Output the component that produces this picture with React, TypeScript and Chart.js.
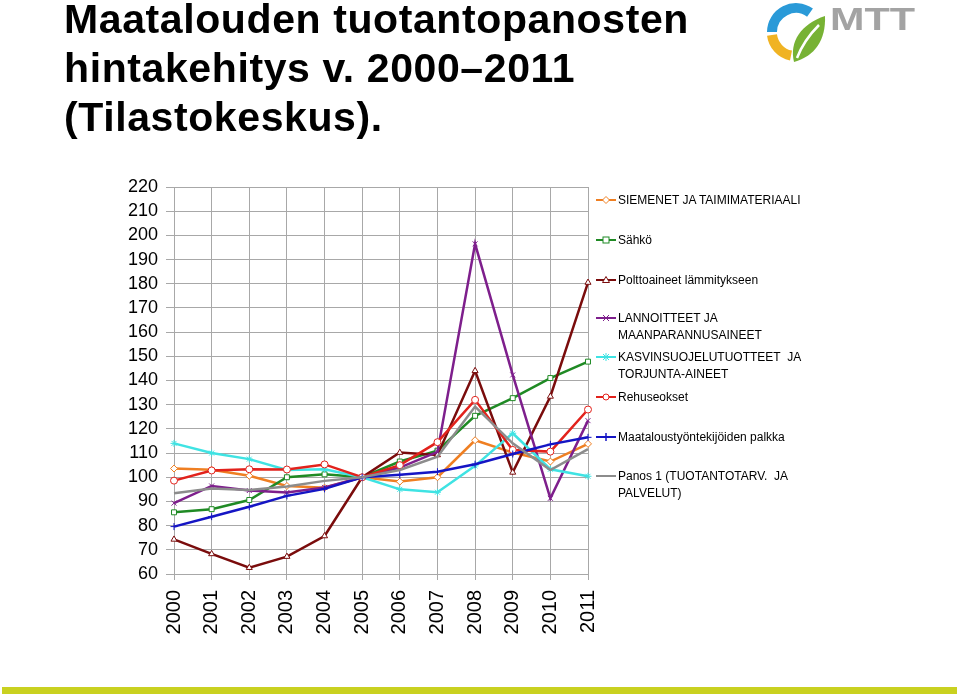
import React, { useEffect, useRef } from "react";
import { Chart, registerables } from "chart.js";
Chart.register(...registerables);

const years = ["2000", "2001", "2002", "2003", "2004", "2005", "2006", "2007", "2008", "2009", "2010", "2011"];

const siemenet = [103.6, 103.1, 100.6, 96.4, 95.7, 100, 98.2, 100, 115.3, 110.2, 106.5, 113.8];
const sahko = [85.5, 86.8, 90.6, 100, 101.2, 100, 106.5, 111, 125.4, 132.7, 141, 147.8];
const polttoaineet = [74.3, 68.3, 62.6, 67.2, 75.7, 100, 110.2, 109.2, 144, 102, 133.4, 180.5];
const lannoitteet = [89.3, 96.4, 94.5, 93.7, 95.8, 100, 104, 110.5, 196.5, 142.3, 91.3, 123.4];
const kasvinsuojelu = [114, 110, 107.5, 103, 103.3, 100, 95, 93.8, 104.7, 118.2, 103.3, 100.4];
const rehuseokset = [98.6, 102.8, 103.3, 103.2, 105.3, 100, 105, 114.5, 132, 111.3, 110.6, 128];
const palkka = [79.6, 83.7, 87.8, 92.3, 95.2, 100, 101, 102.3, 105.4, 109.6, 113.6, 116.5];
const panos = [93.4, 95.3, 94.7, 96.2, 98.5, 100, 103, 108.5, 129.2, 114, 103, 111.6];

const seriesLabels: string[][] = [
  ["SIEMENET JA TAIMIMATERIAALI"],
  ["Sähkö"],
  ["Polttoaineet lämmitykseen"],
  ["LANNOITTEET JA", "MAANPARANNUSAINEET"],
  ["KASVINSUOJELUTUOTTEET  JA", "TORJUNTA-AINEET"],
  ["Rehuseokset"],
  ["Maataloustyöntekijöiden palkka"],
  ["Panos 1 (TUOTANTOTARV.  JA", "PALVELUT)"],
];
const seriesColors = ["#ef7f22", "#1f8a24", "#7a0c0c", "#7e1f8c", "#3fe3e3", "#e2221c", "#1515c4", "#8c8c8c"];
const seriesMarkers = ["rectRot", "rect", "triangle", "crossRot", "star", "circle", "cross", "none"];

const FONT = "'Liberation Sans', Arial, Helvetica, sans-serif";

function Marker({ kind, color }: { kind: string; color: string }) {
  const c = 10, m = 8;
  let shape: React.ReactNode = null;
  if (kind === "rectRot") shape = <polygon points={`${c},${m - 3.5} ${c + 3.5},${m} ${c},${m + 3.5} ${c - 3.5},${m}`} fill="#fff" stroke={color} strokeWidth={1} />;
  else if (kind === "rect") shape = <rect x={c - 3} y={m - 3} width={6} height={6} fill="#fff" stroke={color} strokeWidth={1} />;
  else if (kind === "triangle") shape = <polygon points={`${c},${m - 3.5} ${c + 3.5},${m + 2.5} ${c - 3.5},${m + 2.5}`} fill="#fff" stroke={color} strokeWidth={1} />;
  else if (kind === "crossRot") shape = <path d={`M${c - 3} ${m - 3}L${c + 3} ${m + 3}M${c + 3} ${m - 3}L${c - 3} ${m + 3}`} stroke={color} strokeWidth={1} />;
  else if (kind === "star") shape = <path d={`M${c - 3} ${m - 3}L${c + 3} ${m + 3}M${c + 3} ${m - 3}L${c - 3} ${m + 3}M${c} ${m - 4}L${c} ${m + 4}`} stroke={color} strokeWidth={1} />;
  else if (kind === "circle") shape = <circle cx={c} cy={m} r={3} fill="#fff" stroke={color} strokeWidth={1} />;
  else if (kind === "cross") shape = <path d={`M${c} ${m - 4}L${c} ${m + 4}`} stroke={color} strokeWidth={1.5} />;
  return (
    <svg width={20} height={16} style={{ position: "absolute", left: 0, top: 0 }}>
      <line x1={0} y1={m} x2={20} y2={m} stroke={color} strokeWidth={2} />
      {shape}
    </svg>
  );
}

export default function App() {
  const ref = useRef<HTMLCanvasElement>(null);
  useEffect(() => {
    const series = [siemenet, sahko, polttoaineet, lannoitteet, kasvinsuojelu, rehuseokset, palkka, panos];
    const chart = new Chart(ref.current!, {
      type: "line",
      data: {
        labels: years,
        datasets: series.map((d, i) => ({
          label: seriesLabels[i].join(" "),
          data: d,
          borderColor: seriesColors[i],
          backgroundColor: seriesColors[i],
          borderWidth: 2.5,
          tension: 0,
          fill: false,
          pointStyle: seriesMarkers[i] === "none" ? false : (seriesMarkers[i] as any),
          pointRadius: seriesMarkers[i] === "none" ? 0 : 3.5,
          pointBackgroundColor: "#ffffff",
          pointBorderColor: seriesColors[i],
          pointBorderWidth: 1,
          order: series.length - i,
        })),
      },
      options: {
        responsive: false,
        animation: false,
        events: [],
        layout: { padding: { left: 100, top: 187, right: 372, bottom: 52 } },
        plugins: { legend: { display: false }, tooltip: { enabled: false }, title: { display: false } },
        scales: {
          x: {
            offset: false,
            grid: { color: "#a8a8a8", lineWidth: 1, tickLength: 6, drawTicks: true },
            border: { color: "#a8a8a8", width: 1 },
            ticks: {
              autoSkip: false,
              minRotation: 90,
              maxRotation: 90,
              padding: 10,
              color: "#000",
              font: { family: FONT, size: 20 },
            },
            afterFit: (s: any) => { s.height = 70; },
          },
          y: {
            min: 60,
            max: 220,
            grid: { color: "#a8a8a8", lineWidth: 1, tickLength: 8, drawTicks: true },
            border: { color: "#a8a8a8", width: 1 },
            ticks: {
              stepSize: 10,
              autoSkip: false,
              padding: 8,
              color: "#000",
              font: { family: FONT, size: 18 },
            },
            afterFit: (s: any) => { s.width = 74; },
          },
        },
      },
    });
    return () => chart.destroy();
  }, []);

  const legendTops = [192, 232, 272, 310, 349, 389, 429, 468];

  return (
    <div style={{ position: "absolute", left: 0, top: 0, width: 960, height: 696, background: "#fff", overflow: "hidden", fontFamily: FONT }}>
      <canvas ref={ref} width={960} height={696} style={{ position: "absolute", left: 0, top: 0, width: 960, height: 696 }} />
      <div style={{ position: "absolute", left: 64, top: -5, fontSize: 41, lineHeight: "49px", fontWeight: "bold", letterSpacing: "0.6px", color: "#000", whiteSpace: "nowrap" }}>
        Maatalouden tuotantopanosten<br />hintakehitys v. 2000–2011<br />(Tilastokeskus).
      </div>
      <svg width={200} height={70} style={{ position: "absolute", left: 750, top: 0 }} viewBox="750 0 200 70">
        <path d="M772 32 A24 24 0 0 1 810 12.6" fill="none" stroke="#2a9ad8" strokeWidth={10} />
        <path d="M772 35 A24 24 0 0 0 791 55.5" fill="none" stroke="#f0b323" strokeWidth={10} />
        <path d="M794 62 C789 42 801 24 825 16 C826 40 815 56 794 62 Z" fill="#77b234" />
        <path d="M797 58 C802 45 810 34 819 25" fill="none" stroke="#fff" strokeWidth={2.5} />
        <text x={830} y={30} fontSize={32} fontWeight="bold" fill="#a3a3a3" fontFamily={FONT} textLength={85} lengthAdjust="spacingAndGlyphs">MTT</text>
      </svg>
      {seriesLabels.map((lines, i) => (
        <div key={i} style={{ position: "absolute", left: 596, top: legendTops[i], width: 260, height: 40 }}>
          <Marker kind={seriesMarkers[i]} color={seriesColors[i]} />
          <div style={{ position: "absolute", left: 22, top: 0, fontSize: 12, lineHeight: "17px", color: "#000", whiteSpace: "pre" }}>
            {lines.map((l, j) => (<div key={j}>{l}</div>))}
          </div>
        </div>
      ))}
      <div style={{ position: "absolute", left: 2, top: 687, width: 955, height: 7, background: "#c9d120" }} />
    </div>
  );
}
